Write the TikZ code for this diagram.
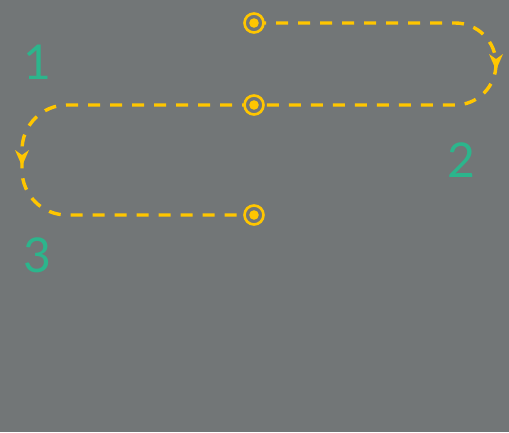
\documentclass[tikz,border=0pt]{standalone}
\usepackage{fontspec}
\setmainfont{Lato}
\usetikzlibrary{
  decorations.markings
}
\definecolor{slate}{RGB}{114,118,119}
\definecolor{amber}{RGB}{255,198,0}
\definecolor{jade}{RGB}{44,181,140}

\begin{document}
\begin{tikzpicture}[
    x=1pt,
    y=-1pt,
    route/.style={
      amber,
      line width=3.4pt,
      dash pattern=on 12pt off 10pt,
      postaction={decorate},
      decoration={markings,
        mark=at position 0.5 with {\fill[amber,sharp corners,solid] (6pt,0pt) -- (-10pt,7pt) -- (-5pt,0pt) -- (-10pt,-7pt) -- cycle;}}
    },
    stop/.style={circle,draw=amber,fill=slate,line width=2.6pt,minimum size=19pt,inner sep=0pt,
      path picture={\fill[amber] (path picture bounding box.center) circle (4.8pt);}},
    number/.style={jade,font=\fontsize{48}{48}\selectfont,inner sep=0pt}
  ]
  \fill[slate] (0,0) rectangle (509,432);

  \coordinate (top) at (254,23);
  \coordinate (mid) at (254,105);
  \coordinate (bot) at (254,215);

  \draw[route, rounded corners=41] (top) -- ++(242,0) -- ++(0,82) -- (mid);
  \draw[route, rounded corners=45] (mid) -- ++(-232,0) -- ++(0,110) -- (bot);

  \node[stop] (a) at (top) {};
  \node[stop] (b) at (mid) {};
  \node[stop] (c) at (bot) {};

  \node[number] (one) at (37,62) {1};
  \node[number] (two) at (461,160) {2};
  \node[number] (three) at (37,255) {3};
\end{tikzpicture}
\end{document}
